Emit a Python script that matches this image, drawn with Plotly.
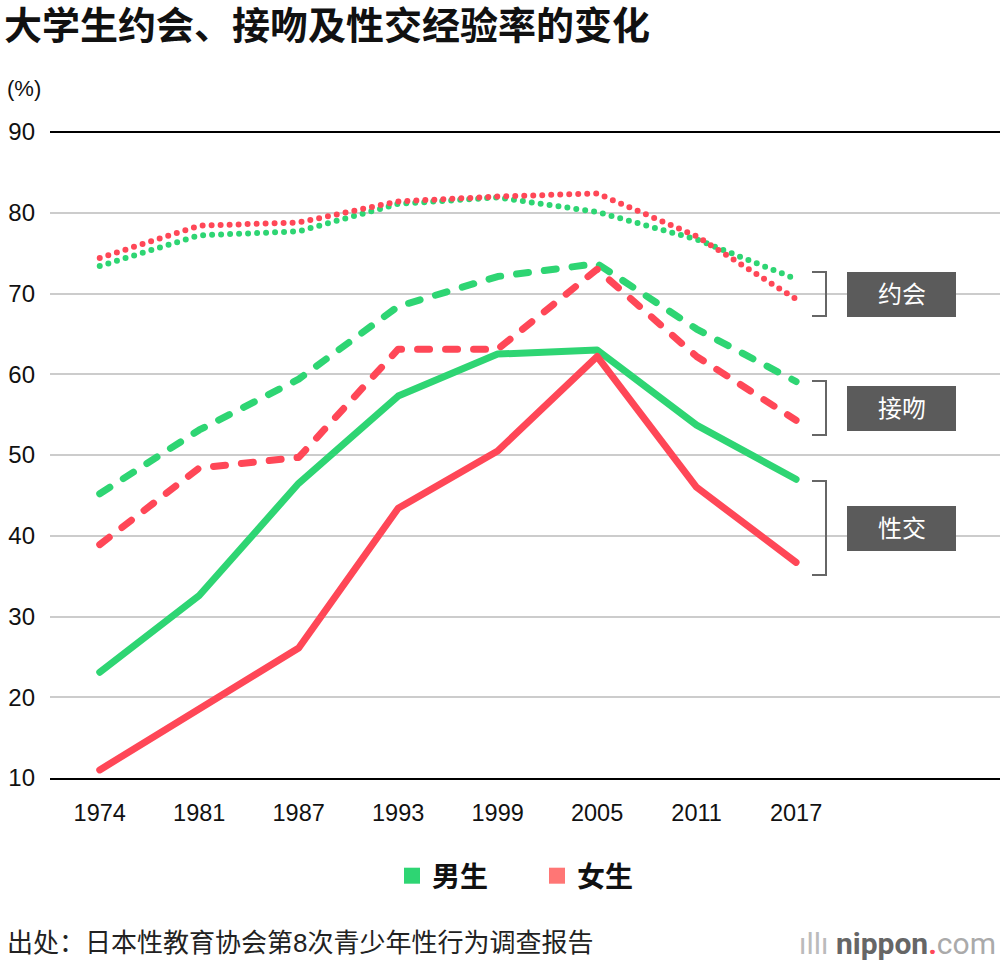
import plotly.graph_objects as go

years = ["1974", "1981", "1987", "1993", "1999", "2005", "2011", "2017"]

male_date = [73.4, 77.2, 77.7, 81.1, 81.9, 80.1, 76.7, 71.8]
female_date = [74.4, 78.4, 78.8, 81.4, 82.0, 82.4, 77.1, 69.3]
male_kiss = [45.2, 53.1, 59.4, 68.4, 72.1, 73.7, 65.6, 59.1]
female_kiss = [38.9, 48.4, 49.7, 63.1, 63.1, 73.0, 62.2, 54.3]
male_sex = [23.1, 32.6, 46.5, 57.3, 62.5, 63.0, 53.7, 47.0]
female_sex = [11.0, 18.5, 26.1, 43.4, 50.5, 62.2, 46.0, 36.7]

group_labels = ["约会", "接吻", "性交"]
legend_labels = ["男生", "女生"]

GREEN = "#2ed573"
RED = "#ff4757"
RED_LEG = "#ff7675"
FONT = "Liberation Sans, Noto Sans CJK SC, sans-serif"

W, H = 1000, 966
L, R, T, B = 50, 1000, 132, 778


def px(x):
    return (x - L) / (R - L)


def py(y):
    return (B - y) / (B - T)


fig = go.Figure()

series = [
    (male_date, GREEN, "0px,9px", 6),
    (female_date, RED, "0px,9px", 6),
    (male_kiss, GREEN, "12px,16px", 7),
    (female_kiss, RED, "12px,16px", 7),
    (male_sex, GREEN, "solid", 7),
    (female_sex, RED, "solid", 7),
]
for vals, col, dash, w in series:
    fig.add_trace(go.Scatter(x=years, y=vals, mode="lines",
                             line=dict(color=col, width=w, dash=dash),
                             showlegend=False, hoverinfo="skip"))

for name, col in zip(legend_labels, [GREEN, RED_LEG]):
    fig.add_trace(go.Scatter(x=[None], y=[None], mode="markers", name=name,
                             marker=dict(symbol="square", size=20, color=col)))

shapes = []
annotations = []

# brackets and labels
brackets = [(272, 316), (381, 435), (481, 575)]
boxes = [(272, 317), (386, 431), (506, 551)]
for (b0, b1), (y0, y1), lab in zip(brackets, boxes, group_labels):
    path = (f"M {px(812)} {py(b0)} L {px(826)} {py(b0)} L {px(826)} {py(b1)} "
            f"L {px(812)} {py(b1)}")
    shapes.append(dict(type="path", xref="paper", yref="paper", path=path,
                       line=dict(color="#666666", width=2)))
    shapes.append(dict(type="rect", xref="paper", yref="paper",
                       x0=px(847), x1=px(956), y0=py(y1), y1=py(y0),
                       fillcolor="#5b5b5b", line=dict(width=0), layer="above"))
    annotations.append(dict(xref="paper", yref="paper", x=px(901.5),
                            y=py((y0 + y1) / 2), text=lab, showarrow=False,
                            xanchor="center", yanchor="middle",
                            font=dict(size=24, color="white", family=FONT)))

# top black line at 90
shapes.append(dict(type="line", xref="paper", yref="paper", x0=0, x1=1,
                   y0=1, y1=1, line=dict(color="black", width=2)))

annotations += [
    dict(xref="paper", yref="paper", x=px(5), y=py(89), xanchor="left",
         yanchor="middle", text="(%)", showarrow=False,
         font=dict(size=22, color="#111", family=FONT)),
    dict(xref="paper", yref="paper", x=px(5), y=py(943), xanchor="left",
         yanchor="middle", text="出处：日本性教育协会第8次青少年性行为调查报告",
         showarrow=False, font=dict(size=26, color="#222", family=FONT)),
    dict(xref="paper", yref="paper", x=px(998), y=py(943), xanchor="right",
         yanchor="middle",
         text=("<span style='color:#bbb'>ıllı </span>"
               "<b><span style='color:#666'>nippon</span><span style='color:#ff4757'>.</span></b>"
               "<span style='color:#aaa'>com</span>"),
         showarrow=False, font=dict(size=30, color="#666", family="Roboto, sans-serif")),
]

fig.update_layout(
    width=W, height=H,
    margin=dict(l=L, r=W - R, t=T, b=H - B),
    plot_bgcolor="white", paper_bgcolor="white",
    font=dict(family=FONT, color="#111", size=22),
    title=dict(text="<b>大学生约会、接吻及性交经验率的变化</b>", x=0.004, xanchor="left",
               y=1 - 26 / H, yanchor="middle", yref="container",
               font=dict(size=38, color="#111", family=FONT)),
    xaxis=dict(type="category", range=[-0.5, 9.05], showgrid=False,
               showline=True, linecolor="black", linewidth=2, ticks="",
               tickfont=dict(size=23.5, color="#111"), ticklabelstandoff=13,
               fixedrange=True),
    yaxis=dict(range=[10, 90], tickvals=[10, 20, 30, 40, 50, 60, 70, 80, 90],
               showgrid=True, gridcolor="#cccccc", gridwidth=1.5,
               zeroline=False, showline=False, ticks="",
               tickfont=dict(size=24, color="#111"), ticklabelstandoff=14,
               fixedrange=True),
    legend=dict(orientation="h", x=px(392), xanchor="left", y=py(876),
                yanchor="middle", font=dict(size=28, color="#111"),
                itemclick=False, entrywidth=100),
    shapes=shapes, annotations=annotations,
    hovermode=False,
)

post = ("document.body.style.margin='0';document.body.style.padding='0';"
        "var gd=document.getElementById('{plot_id}');"
        "gd.querySelectorAll('.scatterlayer path.js-line').forEach(function(p){"
        "p.style.strokeLinecap='round';p.style.strokeLinejoin='round';});"
        "gd.querySelectorAll('.legendtext').forEach(function(t){t.style.fontWeight='bold';});")

fig.write_html("out.html", post_script=post, config={"displayModeBar": False})
